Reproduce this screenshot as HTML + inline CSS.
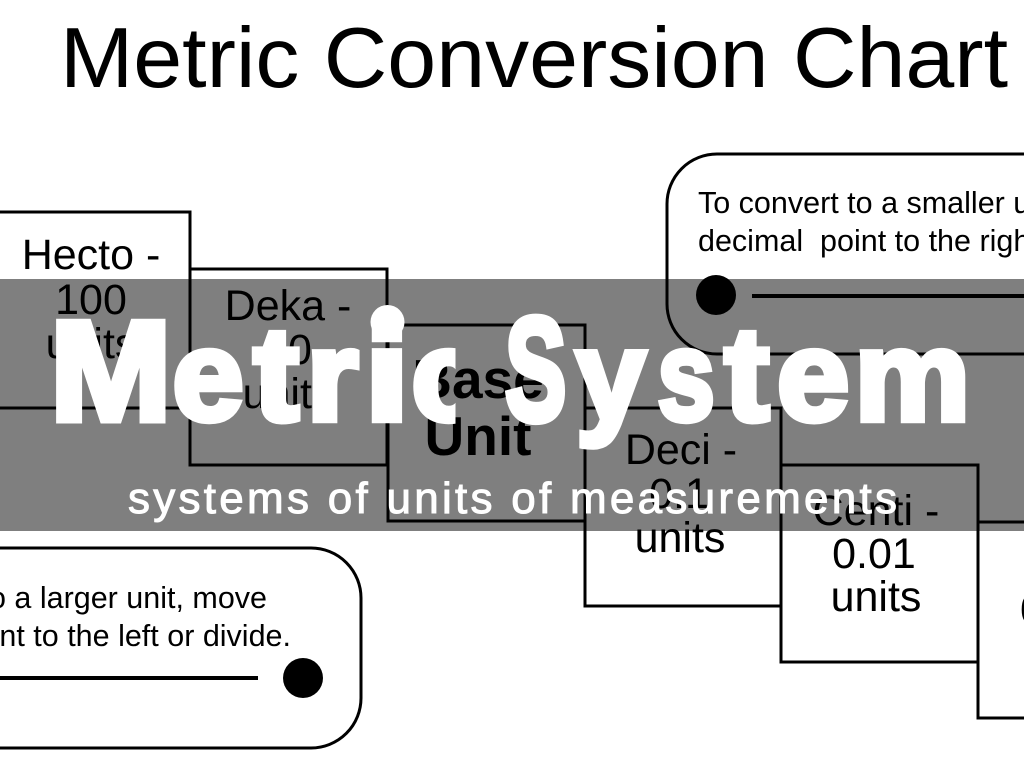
<!DOCTYPE html>
<html><head><meta charset="utf-8"><style>
html,body{margin:0;padding:0;background:#fff;width:1024px;height:768px;overflow:hidden}
svg{display:block}
text{font-family:"Liberation Sans",sans-serif;white-space:pre}
.h text{font-size:100px;font-weight:bold;fill:#fff;stroke:#fff;stroke-width:5px;stroke-linejoin:miter}
</style></head><body>
<svg width="1024" height="768" viewBox="0 0 1024 768" xmlns="http://www.w3.org/2000/svg">
<defs><clipPath id="cc"><rect x="400" y="300" width="55.5" height="140"/></clipPath></defs>
<rect width="1024" height="768" fill="#fff"/>
<text x="60" y="87" font-size="85" textLength="948" lengthAdjust="spacingAndGlyphs" fill="#000">Metric Conversion Chart</text>
<g fill="none" stroke="#000" stroke-width="3">
<path d="M-5 212H190V408H-5"/>
<path d="M190 269H387V465H190Z"/>
<rect x="388" y="325" width="197" height="196"/>
<rect x="585" y="408" width="196" height="198"/>
<rect x="781" y="465" width="197" height="197"/>
<path d="M1030 522H978V718H1030"/>
<rect x="667" y="154" width="420" height="200" rx="50"/>
<rect x="-60" y="548" width="421" height="200" rx="50"/>
</g>
<path d="M752 296H1030M-5 678H258" stroke="#000" stroke-width="4" fill="none"/>
<circle cx="716" cy="295" r="20"/>
<circle cx="303" cy="678" r="20"/>
<g font-size="43" text-anchor="middle" fill="#000">
<text x="91" y="269">Hecto -</text>
<text x="91" y="314">100</text>
<text x="91" y="358">units</text>
<text x="288" y="320">Deka -</text>
<text x="288" y="364">10</text>
<text x="288" y="408">units</text>
<text x="681" y="464">Deci -</text>
<text x="679" y="508">0.1</text>
<text x="680" y="552">units</text>
<text x="876" y="525">Centi -</text>
<text x="874" y="568">0.01</text>
<text x="876" y="611">units</text>
<text x="1020" y="624" text-anchor="start">0.001</text>
<g font-weight="bold" font-size="55">
<text x="478" y="398">Base</text>
<text x="478" y="455">Unit</text>
</g>
</g>
<g font-size="30.5" fill="#000">
<text x="698" y="213">To convert to a smaller unit, move</text>
<text x="698" y="251">decimal  point to the right or multiply.</text>
<text x="267" y="608" text-anchor="end">to a larger unit, move</text>
<text x="291" y="646" text-anchor="end">point to the left or divide.</text>
</g>
<rect x="0" y="279" width="1024" height="252" fill="#000" fill-opacity="0.5"/>
<g class="h">
<text transform="translate(50,420) scale(1.46,1.42)">M</text>
<text transform="translate(172.5,420) scale(1.28,1.28)">e</text>
<text transform="translate(253.5,420) scale(1.36,1.33)">t</text>
<text transform="translate(306.5,420) scale(1.33,1.28)">r</text>
<text transform="translate(364.5,420) scale(1.62,1.3)">i</text>
<g clip-path="url(#cc)"><text transform="translate(411.5,420) scale(1.28,1.28)">c</text></g>
<text transform="translate(505,420) scale(0.92,1.47)">S</text>
<text transform="translate(576,420) scale(1.25,1.28)">y</text>
<text transform="translate(657.5,420) scale(1.03,1.28)">s</text>
<text transform="translate(724.5,420) scale(1.34,1.33)">t</text>
<text transform="translate(777,420) scale(1.3,1.28)">e</text>
<text transform="translate(854.5,420) scale(1.3,1.28)">m</text>
</g>
<circle cx="387.5" cy="322" r="17" fill="#fff"/>
<text x="128" y="513" font-size="44" fill="#fff" stroke="#fff" stroke-width="1" textLength="769" lengthAdjust="spacing">systems of units of measurements</text>
</svg>
</body></html>
